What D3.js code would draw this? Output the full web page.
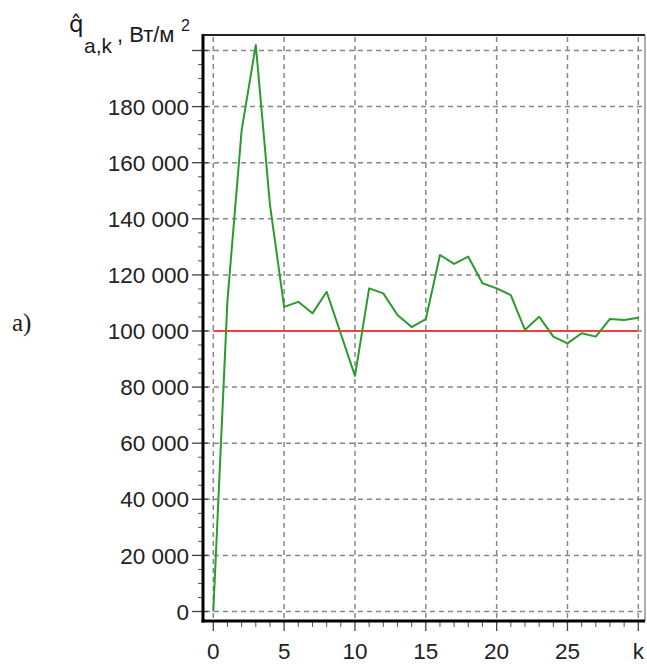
<!DOCTYPE html>
<html>
<head>
<meta charset="utf-8">
<script src="https://cdn.jsdelivr.net/npm/d3@7"></script>
<style>
  html, body { margin: 0; padding: 0; background: #fff; }
  svg { display: block; }
  text { font-family: "Liberation Sans", Arial, sans-serif; fill: #1a1a1a; }
</style>
</head>
<body>
<svg id="chart" width="647" height="666"></svg>
<script>
// Iteration index k and the estimated heat flux at each step, W/m²
const kValues = [0, 1, 2, 3, 4, 5, 6, 7, 8, 9, 10, 11, 12, 13, 14, 15,
                 16, 17, 18, 19, 20, 21, 22, 23, 24, 25, 26, 27, 28, 29, 30];
const qEstimate = [0, 111000, 171500, 202000, 145000, 108600, 110400, 106300,
                   114000, 99000, 84000, 115200, 113400, 105700, 101400, 104200,
                   127100, 123900, 126500, 117000, 115200, 112800, 100400, 105100,
                   98000, 95600, 99200, 98000, 104300, 103900, 104700];
// True flux level
const qTrue = 100000;

// Axis ticks and labels
const yMajorTicks = [0, 20000, 40000, 60000, 80000, 100000, 120000, 140000, 160000, 180000, 200000];
const yLabelTicks = [0, 20000, 40000, 60000, 80000, 100000, 120000, 140000, 160000, 180000];
const yLabels = ["0", "20 000", "40 000", "60 000", "80 000", "100 000", "120 000", "140 000", "160 000", "180 000"];
const xMajorTicks = [0, 5, 10, 15, 20, 25, 30];
const xLabels = ["0", "5", "10", "15", "20", "25", "k"];

const svg = d3.select("#chart");

// Frame of the plotting area
const frame = { left: 203, right: 645, top: 35, bottom: 621 };

const x = d3.scaleLinear().domain([0, 30]).range([213.3, 638.3]);
const y = d3.scaleLinear().domain([0, 200000]).range([611.5, 50.5]);

// Dashed grid
const grid = svg.append("g")
  .attr("stroke", "#888")
  .attr("stroke-width", 1.5)
  .attr("stroke-dasharray", "5,4");
grid.selectAll("line.h").data(yMajorTicks).join("line")
  .attr("class", "h")
  .attr("x1", frame.left + 2).attr("x2", frame.right)
  .attr("y1", d => y(d)).attr("y2", d => y(d));
grid.selectAll("line.v").data(xMajorTicks).join("line")
  .attr("class", "v")
  .attr("x1", d => x(d)).attr("x2", d => x(d))
  .attr("y1", frame.top + 2).attr("y2", frame.bottom - 1);

// Minor ticks
const yMinor = d3.range(0, 200001, 5000).filter(v => v % 20000 !== 0);
svg.append("g").attr("stroke", "#555").attr("stroke-width", 1)
  .selectAll("line").data(yMinor).join("line")
  .attr("x1", frame.left - 5).attr("x2", frame.left)
  .attr("y1", d => y(d)).attr("y2", d => y(d));
const xMinor = d3.range(0, 31).filter(v => v % 5 !== 0);
svg.append("g").attr("stroke", "#555").attr("stroke-width", 1)
  .selectAll("line").data(xMinor).join("line")
  .attr("x1", d => x(d)).attr("x2", d => x(d))
  .attr("y1", frame.bottom).attr("y2", frame.bottom + 6);

// Major ticks
svg.append("g").attr("stroke", "#444").attr("stroke-width", 1.3)
  .selectAll("line").data(yMajorTicks).join("line")
  .attr("x1", frame.left - 11).attr("x2", frame.left + 5)
  .attr("y1", d => y(d)).attr("y2", d => y(d));
svg.append("g").attr("stroke", "#444").attr("stroke-width", 1.3)
  .selectAll("line").data(xMajorTicks).join("line")
  .attr("x1", d => x(d)).attr("x2", d => x(d))
  .attr("y1", frame.bottom).attr("y2", frame.bottom + 10);

// Frame: thick left and bottom axes, thinner top and right borders
svg.append("line").attr("x1", frame.left).attr("x2", frame.right)
  .attr("y1", frame.top).attr("y2", frame.top)
  .attr("stroke", "#222").attr("stroke-width", 2);
svg.append("line").attr("x1", frame.right).attr("x2", frame.right)
  .attr("y1", frame.top).attr("y2", frame.bottom)
  .attr("stroke", "#777").attr("stroke-width", 1.2);
svg.append("line").attr("x1", frame.left).attr("x2", frame.left)
  .attr("y1", frame.top - 1).attr("y2", frame.bottom + 1.5)
  .attr("stroke", "#000").attr("stroke-width", 3);
svg.append("line").attr("x1", frame.left - 1.5).attr("x2", frame.right)
  .attr("y1", frame.bottom).attr("y2", frame.bottom)
  .attr("stroke", "#000").attr("stroke-width", 3);

// Tick labels
svg.append("g").selectAll("text").data(yLabelTicks).join("text")
  .attr("x", 189)
  .attr("y", d => y(d))
  .attr("dy", "0.36em")
  .attr("text-anchor", "end")
  .attr("font-size", 22.5)
  .style("fill", "#222")
  .text((d, i) => yLabels[i]);
svg.append("g").selectAll("text").data(xMajorTicks).join("text")
  .attr("x", d => x(d))
  .attr("y", 659)
  .attr("text-anchor", "middle")
  .attr("font-size", 22.5)
  .style("fill", "#222")
  .text((d, i) => xLabels[i]);

// Reference level
svg.append("line")
  .attr("x1", x(0)).attr("x2", x(30))
  .attr("y1", y(qTrue)).attr("y2", y(qTrue))
  .attr("stroke", "#ff3b3b").attr("stroke-width", 2.2);

// Estimated flux
const line = d3.line().x((d, i) => x(kValues[i])).y(d => y(d));
svg.append("path")
  .datum(qEstimate)
  .attr("d", line)
  .attr("fill", "none")
  .attr("stroke", "#2c9a2c")
  .attr("stroke-width", 2)
  .attr("stroke-linejoin", "round");

// Axis title: q̂ with subscript a,k, units W/m²
const title = svg.append("g");
title.append("text").attr("x", 69).attr("y", 32).attr("font-size", 23)
  .style("font-family", "'DejaVu Sans', 'Liberation Sans', sans-serif")
  .text("q\u0302");
title.append("text").attr("x", 84).attr("y", 53).attr("font-size", 21).text("a,k");
title.append("text").attr("x", 117).attr("y", 42).attr("font-size", 22).text(", Вт/м");
title.append("text").attr("x", 181).attr("y", 31).attr("font-size", 16).text("2");

// Panel label
svg.append("text")
  .attr("x", 12).attr("y", 331)
  .attr("font-size", 25)
  .style("font-family", "'Liberation Serif', 'Times New Roman', serif")
  .text("a)");
</script>
</body>
</html>
